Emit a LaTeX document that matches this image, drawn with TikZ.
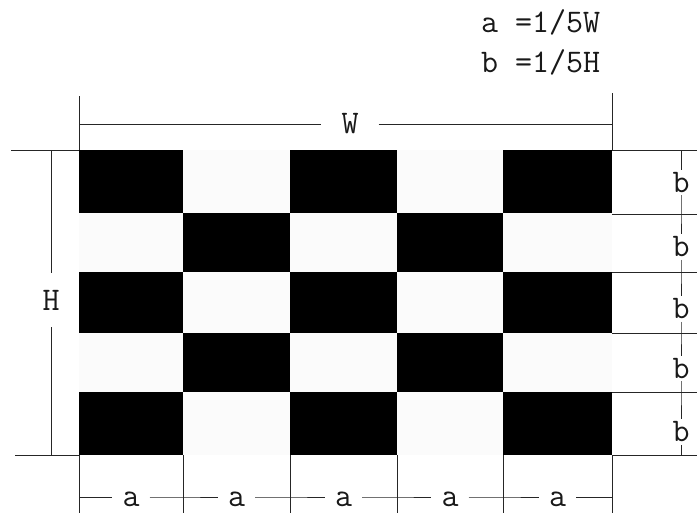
\documentclass[tikz,border=0pt]{standalone}
\usepackage{fontspec}
\begin{document}
\begin{tikzpicture}[x=1pt,y=-1pt,
  dimline/.style={draw=black!85,line width=1pt},
  lbl/.style={font=\ttfamily\addfontfeatures{FakeStretch=0.86}\fontsize{33}{40}\selectfont,inner sep=0pt,text=black!90},
  blk/.style={fill=black},
  wht/.style={fill=white!97!gray}]
\fill[white] (0,0) rectangle (697,517);
\useasboundingbox (0,0) rectangle (697,517);
% board
\foreach \xa/\xb [count=\i] in {79/183,183/290,290/397,397/503,503/612}{
  \foreach \ya/\yb [count=\j] in {150/213,213/272,272/333,333/392,392/455}{
    \pgfmathtruncatemacro\p{mod(\i+\j,2)}
    \ifnum\p=0 \fill[blk] (\xa,\ya) rectangle (\xb,\yb);
    \else \fill[wht] (\xa,\ya) rectangle (\xb,\yb); \fi
  }
}
% formulas
\node[lbl,anchor=base west] (fa) at (481,32) {a =1/5W};
\node[lbl,anchor=base west] (fb) at (481,72) {b =1/5H};
% top dimension
\coordinate (tl0) at (79,96); \coordinate (tl1) at (79,150);
\coordinate (tr0) at (612,93); \coordinate (tr1) at (612,150);
\coordinate (wl) at (79,124); \coordinate (wr) at (612,124);
\node[lbl,inner xsep=20pt,inner ysep=2pt] (W) at (350,124) {W};
\draw[dimline] (tl0) -- (tl1);
\draw[dimline] (tr0) -- (tr1);
\draw[dimline] (wl) -- (W) -- (wr);
% left dimension
\coordinate (hl0) at (11,150); \coordinate (hl1) at (79,150);
\coordinate (hb0) at (15,455); \coordinate (hb1) at (79,455);
\coordinate (vl0) at (51,150); \coordinate (vl1) at (51,455);
\node[lbl,inner xsep=2pt,inner ysep=17pt] (H) at (51,300) {H};
\draw[dimline] (hl0) -- (hl1);
\draw[dimline] (hb0) -- (hb1);
\draw[dimline] (vl0) -- (H) -- (vl1);
% right dimension
\foreach \y [count=\k from 0] in {150,214,272,333,392,455}{
  \coordinate (re\k) at (612,\y);
  \coordinate (rr\k) at (697,\y);
  \coordinate (rv\k) at (681,\y);
  \draw[dimline] (re\k) -- (rr\k);
}
\foreach \y [count=\k] in {182.5,247,309,368.5,432}{
  \node[lbl,inner xsep=2pt,inner ysep=2.5pt] (b\k) at (681,\y) {b};
}
\draw[dimline] (rv0) -- (b1) -- (rv1) -- (b2) -- (rv2) -- (b3) -- (rv3) -- (b4) -- (rv4) -- (b5) -- (rv5);
% bottom dimension
\foreach \x [count=\k from 0] in {79,183,290,397,503,612}{
  \coordinate (bt\k) at (\x,455);
  \coordinate (bb\k) at (\x,513);
  \coordinate (bh\k) at (\x,497);
  \draw[dimline] (bt\k) -- (bb\k);
}
\foreach \x [count=\k] in {131,236.5,343.5,450,557.5}{
  \node[lbl,inner xsep=10pt,inner ysep=2pt] (a\k) at (\x,499) {a};
}
\draw[dimline] (bh0) -- (a1.west|-bh0) (a1.east|-bh0) -- (bh1) -- (a2.west|-bh0) (a2.east|-bh0) -- (bh2) -- (a3.west|-bh0) (a3.east|-bh0) -- (bh3) -- (a4.west|-bh0) (a4.east|-bh0) -- (bh4) -- (a5.west|-bh0) (a5.east|-bh0) -- (bh5);
\end{tikzpicture}
\end{document}
